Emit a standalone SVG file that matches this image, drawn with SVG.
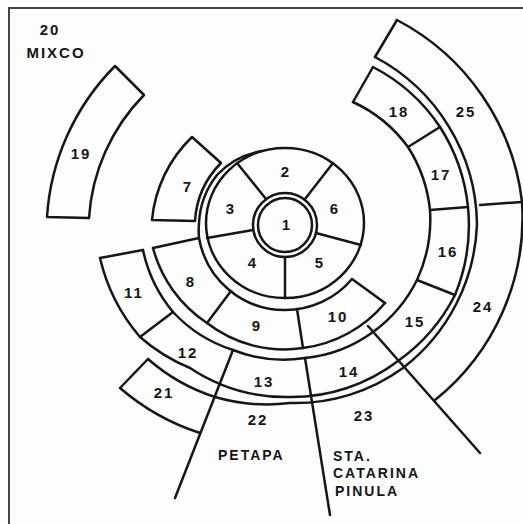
<svg xmlns="http://www.w3.org/2000/svg" width="523" height="524" viewBox="0 0 523 524">
<style>
.l{fill:none;stroke:#161616;stroke-width:2.5;stroke-linecap:round;stroke-linejoin:round}
.t{font-family:"Liberation Sans",Arial,sans-serif;font-weight:bold;font-size:15px;fill:#161616;letter-spacing:2px;text-anchor:middle}
.s{text-anchor:start;font-size:14px}
</style>
<rect width="523" height="524" fill="#fdfdfd"/>
<path d="M9,524 V8 H523" fill="none" stroke="#444" stroke-width="2"/>
<g id="core" class="l">
<circle cx="285" cy="225" r="32"/>
<circle cx="285" cy="225" r="27"/>
<ellipse cx="285" cy="223" rx="79" ry="75"/>
<path d="M266,199 L237,163 M305,199 L333,163 M253,230 L207,238 M316,233 L361,245 M285,257 L285,298"/>
</g>
<g id="ring1" class="l">
<path d="M262,151 A80,80 0 0 0 217,175 A84,84 0 0 0 199,223 A87,87 0 0 0 199,238 A87,87 0 0 0 285,310 A87,87 0 0 0 352,279"/>
</g>
<g id="zone7" class="l"><path d="M152,220 A132,132 0 0 1 192,137 L221,163 A90,90 0 0 0 195,221 Z"/></g>
<g id="layerB" class="l">
<path d="M153,248 A130,130 0 0 0 207,323 A126,126 0 0 0 303,348 A128,128 0 0 0 385,303"/>
<path d="M153,248 L199,238 M231,291 L207,323 M297,309 L303,348 M352,279 L385,303"/>
</g>
<g id="layerC" class="l">
<path d="M143,250 A143,143 0 0 0 173,312 A140,140 0 0 0 233,350 A137,137 0 0 0 305,358 A138,138 0 0 0 373,332 A142,142 0 0 0 417,280 A145,145 0 0 0 430,210 A145,145 0 0 0 408,147 A142,142 0 0 0 353,102"/>
<path d="M100,258 A186,186 0 0 0 140,337 A178,178 0 0 0 190,368 A174,174 0 0 0 290,397 A176,176 0 0 0 398,361 A182,182 0 0 0 455,295 A184,184 0 0 0 468,207 A183,183 0 0 0 440,127 A180,180 0 0 0 373,67"/>
<path d="M100,258 L143,250 M140,337 L173,312 M417,280 L455,295 M430,210 L468,207 M408,147 L440,127 M353,102 L373,67"/>
</g>
<g id="layerD" class="l">
<path d="M148,359 A190,190 0 0 0 215,397 A185,185 0 0 0 290,403 A184,184 0 0 0 403,368 A190,190 0 0 0 477,224 A192,192 0 0 0 375,57"/>
<path d="M148,359 L120,388 A232,232 0 0 0 200,433"/>
<path d="M435,400 A234,234 0 0 0 522,202 A236,236 0 0 0 397,20"/>
<path d="M480,205 L522,202 M375,57 L397,20"/>
</g>
<g id="zone19" class="l"><path d="M47,217 A236,236 0 0 1 115,66 L144,95 A193,193 0 0 0 89,218 Z"/></g>
<g id="connectors" class="l">
<path d="M233,350 L175,498"/>
<path d="M305,358 L330,515"/>
<path d="M368,326 L480,453"/>
</g>
<g id="labels" class="t">
<text x="287" y="230">1</text>
<text x="286" y="177">2</text>
<text x="231" y="214">3</text>
<text x="335" y="214">6</text>
<text x="253" y="268">4</text>
<text x="320" y="268">5</text>
<text x="188" y="192">7</text>
<text x="81" y="159">19</text>
<text x="50" y="35">20</text>
<text x="56" y="58">MIXCO</text>
<text x="191" y="287">8</text>
<text x="257" y="331">9</text>
<text x="338" y="322">10</text>
<text x="134" y="298">11</text>
<text x="188" y="358">12</text>
<text x="264" y="387">13</text>
<text x="349" y="377">14</text>
<text x="415" y="327">15</text>
<text x="448" y="257">16</text>
<text x="441" y="180">17</text>
<text x="399" y="117">18</text>
<text x="466" y="117">25</text>
<text x="483" y="312">24</text>
<text x="164" y="398">21</text>
<text x="258" y="425">22</text>
<text x="364" y="421">23</text>
<text class="s" x="218" y="460">PETAPA</text>
<text class="s" x="333" y="461">STA.</text>
<text class="s" x="333" y="478">CATARINA</text>
<text class="s" x="335" y="496">PINULA</text>
</g>
</svg>
